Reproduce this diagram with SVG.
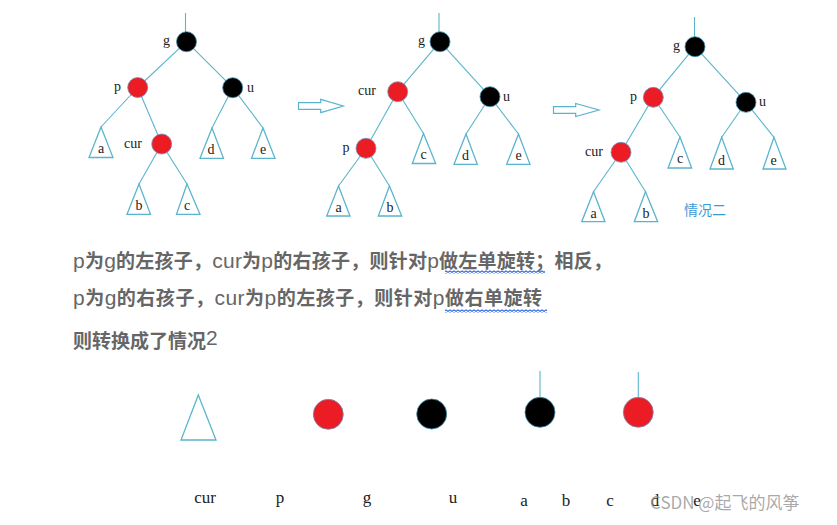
<svg xmlns="http://www.w3.org/2000/svg" width="837" height="525" viewBox="0 0 837 525">
<style>
.e{stroke:#5ab4cc;stroke-width:1.1;fill:none}
.tri{stroke:#5ab4cc;stroke-width:1.3;fill:#fff;stroke-linejoin:miter}
.red{fill:#ec1c24;stroke:#7a8cb4;stroke-width:0.8}
.blk{fill:#000;stroke:#3c8fb0;stroke-width:0.8}
.lb{font-family:"Liberation Serif",serif;font-size:14px;fill:#222}
.bl{font-family:"Liberation Serif",serif;font-size:17px;fill:#222;text-anchor:middle}
.arw{fill:#fff;stroke:#5ab4cc;stroke-width:1.2}
.cn{font-family:"Noto Sans CJK SC",sans-serif;font-size:19px;font-weight:bold;fill:#666}
.lt{font-family:"Liberation Sans","Noto Sans",sans-serif;font-weight:normal;font-size:21px}
</style>
<defs>
<pattern id="wavy" width="4" height="3" patternUnits="userSpaceOnUse"><path d="M0,2.5 L2,0.5 L4,2.5" stroke="#2f67e0" stroke-width="1.2" fill="none"/></pattern>
</defs>
<rect width="837" height="525" fill="#fff"/>
<g id="connectors">
<line class="e" x1="185.5" y1="13" x2="185.5" y2="32"/>
<line class="e" x1="186.5" y1="41.7" x2="137.7" y2="87.5"/>
<line class="e" x1="186.5" y1="41.7" x2="232.7" y2="87.7"/>
<line class="e" x1="137.7" y1="87.5" x2="101" y2="127"/>
<line class="e" x1="137.7" y1="87.5" x2="161.7" y2="144"/>
<line class="e" x1="161.7" y1="144" x2="139" y2="184"/>
<line class="e" x1="161.7" y1="144" x2="187" y2="184"/>
<line class="e" x1="232.7" y1="87.7" x2="212" y2="128"/>
<line class="e" x1="232.7" y1="87.7" x2="263" y2="128"/>
<line class="e" x1="439" y1="13" x2="439" y2="32"/>
<line class="e" x1="440" y1="41.7" x2="397.7" y2="91.7"/>
<line class="e" x1="440" y1="41.7" x2="490" y2="96.7"/>
<line class="e" x1="397.7" y1="91.7" x2="366" y2="148.3"/>
<line class="e" x1="397.7" y1="91.7" x2="423.5" y2="133.5"/>
<line class="e" x1="366" y1="148.3" x2="338.5" y2="186"/>
<line class="e" x1="366" y1="148.3" x2="389.5" y2="186"/>
<line class="e" x1="490" y1="96.7" x2="466" y2="134"/>
<line class="e" x1="490" y1="96.7" x2="518.5" y2="134"/>
<line class="e" x1="694.5" y1="17" x2="694.5" y2="37"/>
<line class="e" x1="695" y1="46.7" x2="653.3" y2="97.3"/>
<line class="e" x1="695" y1="46.7" x2="746" y2="102.3"/>
<line class="e" x1="653.3" y1="97.3" x2="621" y2="152.3"/>
<line class="e" x1="653.3" y1="97.3" x2="680" y2="137"/>
<line class="e" x1="621" y1="152.3" x2="593.5" y2="191.7"/>
<line class="e" x1="621" y1="152.3" x2="645.5" y2="191.7"/>
<line class="e" x1="746" y1="102.3" x2="721.7" y2="137.3"/>
<line class="e" x1="746" y1="102.3" x2="774" y2="137.3"/>
<line class="e" x1="540" y1="371" x2="540" y2="397"/>
<line class="e" x1="638.3" y1="372" x2="638.3" y2="397"/>
</g>
<g id="arrow1"><path class="arw" d="M298.5,102.7 H320.7 V99.3 L343.3,106 L320.7,112.7 V109.3 H298.5 Z"/></g>
<g id="arrow2"><path class="arw" d="M553.5,106.7 H575.7 V103.5 L599,110 L575.7,116.5 V113.3 H553.5 Z"/></g>

<g id="t1-g"><circle class="blk" cx="186.5" cy="41.7" r="10"/><text class="lb" x="163" y="45">g</text></g>
<g id="t1-p"><circle class="red" cx="137.7" cy="87.5" r="10"/><text class="lb" x="114" y="91">p</text></g>
<g id="t1-u"><circle class="blk" cx="232.7" cy="87.7" r="10"/><text class="lb" x="247" y="92">u</text></g>
<g id="t1-cur"><circle class="red" cx="161.7" cy="144" r="10"/><text class="lb" x="124" y="148">cur</text></g>
<g id="t1-a"><polygon class="tri" points="101,127 89,157.5 113,157.5"/><text class="lb" x="101" y="153" text-anchor="middle">a</text></g>
<g id="t1-d"><polygon class="tri" points="212,128 200,158.3 223.5,158.3"/><text class="lb" x="211" y="154" text-anchor="middle">d</text></g>
<g id="t1-e"><polygon class="tri" points="263,128 251.5,158.3 275,158.3"/><text class="lb" x="263" y="154" text-anchor="middle">e</text></g>
<g id="t1-b"><polygon class="tri" points="139,184 127,214.3 150.5,214.3"/><text class="lb" x="139" y="210" text-anchor="middle">b</text></g>
<g id="t1-c"><polygon class="tri" points="187,184 176.5,214.3 200,214.3"/><text class="lb" x="187" y="210" text-anchor="middle">c</text></g>

<g id="t2-g"><circle class="blk" cx="440" cy="41.7" r="10"/><text class="lb" x="418" y="45">g</text></g>
<g id="t2-cur"><circle class="red" cx="397.7" cy="91.7" r="10"/><text class="lb" x="358" y="95">cur</text></g>
<g id="t2-u"><circle class="blk" cx="490" cy="96.7" r="10"/><text class="lb" x="503" y="101">u</text></g>
<g id="t2-p"><circle class="red" cx="366" cy="148.3" r="10"/><text class="lb" x="342.5" y="152">p</text></g>
<g id="t2-c"><polygon class="tri" points="423.5,133.5 412.3,163.5 435.7,163.5"/><text class="lb" x="423.5" y="159" text-anchor="middle">c</text></g>
<g id="t2-d"><polygon class="tri" points="466,134 454,164.3 477.3,164.3"/><text class="lb" x="465.5" y="160" text-anchor="middle">d</text></g>
<g id="t2-e"><polygon class="tri" points="518.5,134 506.7,164.3 530,164.3"/><text class="lb" x="518.5" y="160" text-anchor="middle">e</text></g>
<g id="t2-a"><polygon class="tri" points="338.5,186 326.7,216 350,216"/><text class="lb" x="338.5" y="212" text-anchor="middle">a</text></g>
<g id="t2-b"><polygon class="tri" points="389.5,186 378.3,216 401.7,216"/><text class="lb" x="390" y="212" text-anchor="middle">b</text></g>

<g id="t3-g"><circle class="blk" cx="695" cy="46.7" r="10"/><text class="lb" x="673" y="50">g</text></g>
<g id="t3-p"><circle class="red" cx="653.3" cy="97.3" r="10"/><text class="lb" x="630" y="101">p</text></g>
<g id="t3-u"><circle class="blk" cx="746" cy="102.3" r="10"/><text class="lb" x="759" y="106">u</text></g>
<g id="t3-cur"><circle class="red" cx="621" cy="152.3" r="10"/><text class="lb" x="585" y="156">cur</text></g>
<g id="t3-c"><polygon class="tri" points="680,137 668,168 691.7,168"/><text class="lb" x="680" y="163" text-anchor="middle">c</text></g>
<g id="t3-d"><polygon class="tri" points="721.7,137.3 710,169 733.3,169"/><text class="lb" x="721.5" y="164.5" text-anchor="middle">d</text></g>
<g id="t3-e"><polygon class="tri" points="774,137.3 763,169 786,169"/><text class="lb" x="773.5" y="164.5" text-anchor="middle">e</text></g>
<g id="t3-a"><polygon class="tri" points="593.5,191.7 581.7,221.7 605,221.7"/><text class="lb" x="593.5" y="217.5" text-anchor="middle">a</text></g>
<g id="t3-b"><polygon class="tri" points="645.5,191.7 634.3,221.7 657.7,221.7"/><text class="lb" x="646" y="217.5" text-anchor="middle">b</text></g>
<text x="705" y="215" text-anchor="middle" font-family="Noto Sans CJK SC,sans-serif" font-size="14" fill="#3b9ad6">情况二</text>

<g id="explain">
<text class="cn" x="73" y="268" textLength="539" lengthAdjust="spacing"><tspan class="lt">p</tspan>为<tspan class="lt">g</tspan>的左孩子，<tspan class="lt">cur</tspan>为<tspan class="lt">p</tspan>的右孩子，则针对<tspan class="lt">p</tspan>做左单旋转；相反，</text>
<text class="cn" x="73" y="305" textLength="469" lengthAdjust="spacing"><tspan class="lt">p</tspan>为<tspan class="lt">g</tspan>的右孩子，<tspan class="lt">cur</tspan>为<tspan class="lt">p</tspan>的左孩子，则针对<tspan class="lt">p</tspan>做右单旋转</text>
<text class="cn" x="73" y="348">则转换成了情况<tspan class="lt" font-size="17" dy="-3">2</tspan></text>
<rect x="445" y="270.5" width="100" height="3" fill="url(#wavy)"/>
<rect x="445" y="309.5" width="102" height="3" fill="url(#wavy)"/>
</g>

<g id="leg-tri"><polygon class="tri" points="198.3,395 181,440 216,440"/></g>
<g id="leg-red1"><circle class="red" cx="328.3" cy="414.3" r="15"/></g>
<g id="leg-blk1"><circle class="blk" cx="431.7" cy="414" r="15"/></g>
<g id="leg-blk2"><circle class="blk" cx="540" cy="412.3" r="15"/></g>
<g id="leg-red2"><circle class="red" cx="638.3" cy="412.3" r="15"/></g>
<g id="leg-labels">
<text class="bl" x="205" y="503">cur</text>
<text class="bl" x="280" y="503">p</text>
<text class="bl" x="367" y="503">g</text>
<text class="bl" x="453" y="503">u</text>
<text class="bl" x="524" y="506">a</text>
<text class="bl" x="566" y="506">b</text>
<text class="bl" x="610" y="506">c</text>
<text class="bl" x="655" y="506">d</text>
<text class="bl" x="697" y="506">e</text>
</g>
<text x="650" y="509" font-family="Noto Sans CJK SC,sans-serif" font-size="17" fill="#9a9a9a" fill-opacity="0.85">CSDN @起飞的风筝</text>
</svg>
